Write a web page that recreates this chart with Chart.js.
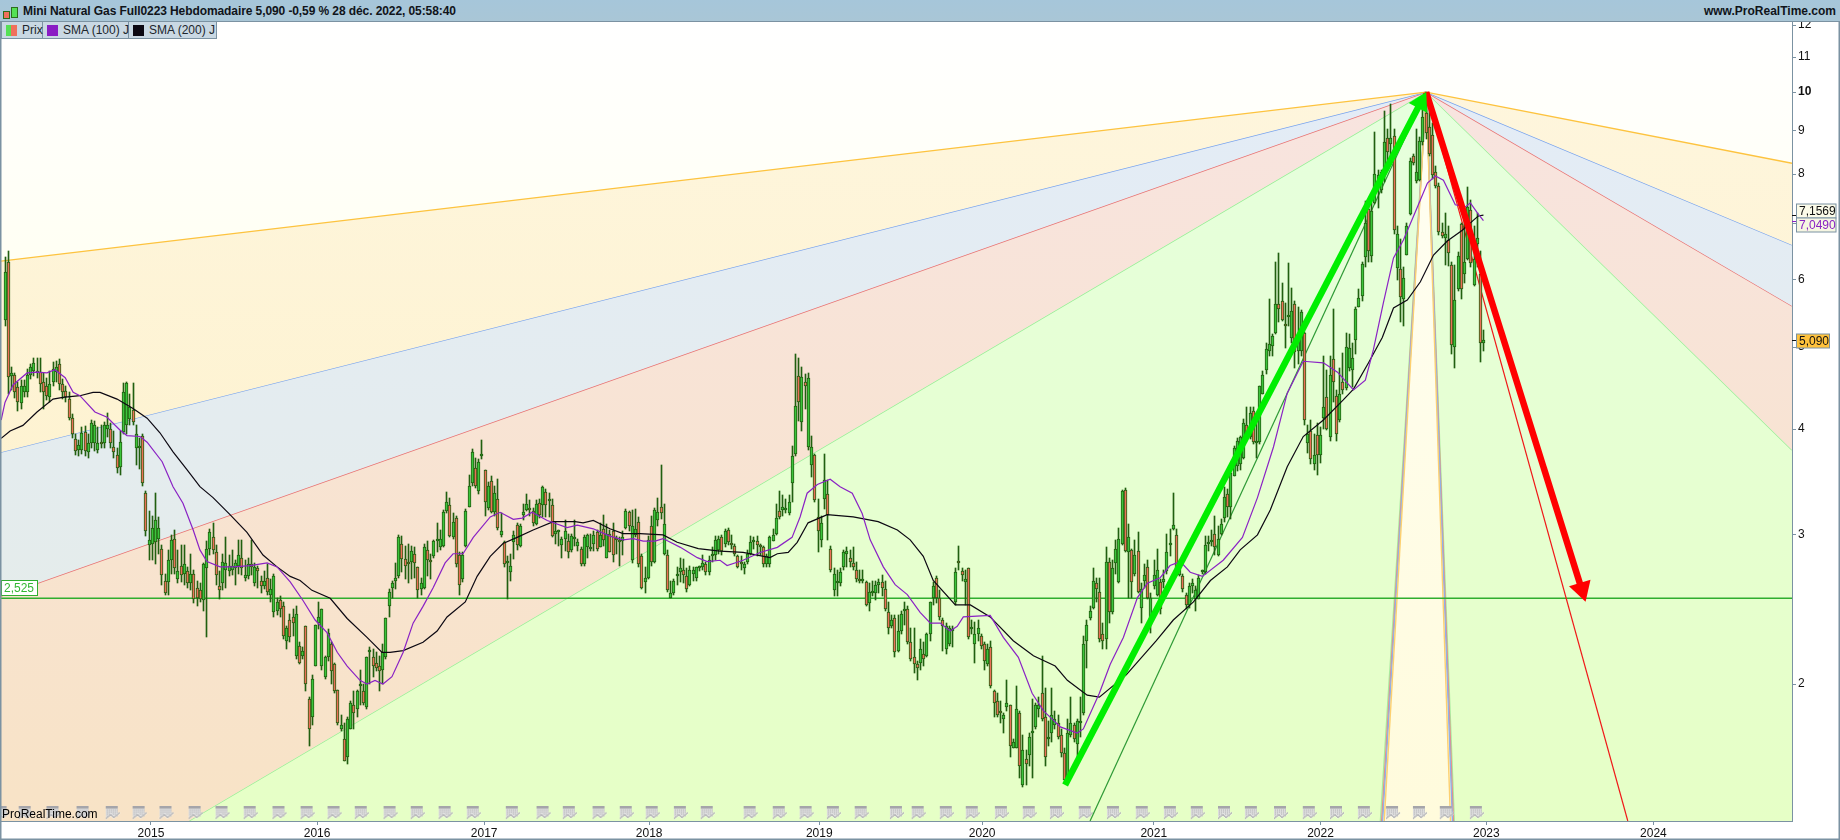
<!DOCTYPE html>
<html>
<head>
<meta charset="utf-8">
<title>Mini Natural Gas Full0223</title>
<script src="https://cdn.jsdelivr.net/npm/chart.js@4"></script>
<style>
    html, body { margin: 0; padding: 0; background: #fff; overflow: hidden; }
    body { width: 1840px; height: 840px; position: relative; font-family: "Liberation Sans", Arial, sans-serif; }
    canvas { position: absolute; left: 0; top: 0; }
    #header { position: absolute; left: 0; top: 0; width: 1840px; height: 21px; background: linear-gradient(#a6c6da, #a9c6d6); border-bottom: 1px solid #7b92a2; }
    #title { position: absolute; left: 23px; top: 4px; font-size: 12px; font-weight: bold; color: #10141a; white-space: nowrap; letter-spacing: -0.09px; }
    #site { position: absolute; right: 4px; top: 4px; font-size: 12px; font-weight: bold; color: #10141a; }
    .candle-icon { position: absolute; width: 5px; border: 1px solid #2c6e1c; }
    #legend { position: absolute; left: 1px; top: 22px; height: 17px; display: flex; background: #c9d8e3; border: 1px solid #7b92a2; border-top: 0; box-sizing: border-box; }
    .item { position: relative; height: 16px; border-right: 1px solid #7b92a2; font-size: 12px; color: #20262c; line-height: 16px; white-space: nowrap; box-sizing: border-box; }
    .swatch { position: absolute; left: 4px; top: 3px; width: 11px; height: 11px; }
</style>
</head>
<body>
<canvas id="grafico" width="1840" height="840"></canvas>
<div id="header">
    <div class="candle-icon" style="left:3px;top:11px;height:6px;background:#f0705c"></div>
    <div class="candle-icon" style="left:11px;top:7px;height:9px;background:#55e055"></div>
    <div id="title">Mini Natural Gas Full0223 Hebdomadaire 5,090 -0,59 % 28 déc. 2022, 05:58:40</div>
    <div id="site">www.ProRealTime.com</div>
</div>
<div id="legend">
    <div class="item" style="width:41px;padding-left:20px"><span class="swatch" style="background:linear-gradient(90deg,#55e055 50%,#f0705c 50%)"></span>Prix</div>
    <div class="item" style="width:86px;padding-left:20px"><span class="swatch" style="background:#8a1cc4"></span>SMA (100) J</div>
    <div class="item" style="width:87px;padding-left:20px;border-right:0"><span class="swatch" style="background:#0c0812"></span>SMA (200) J</div>
</div>
<script>
// Bougies hebdomadaires
const opens = [
    5.38,6.30,4.62,4.63,4.49,4.29,4.42,4.43,4.63,4.68,
    4.68,4.67,4.55,4.50,4.37,4.55,4.67,4.78,4.52,4.44,
    4.34,4.12,3.89,3.78,3.78,3.97,3.76,3.85,3.85,3.78,
    3.86,3.85,4.00,4.00,3.81,3.73,3.61,3.97,4.05,4.11,
    4.21,3.80,3.80,3.93,3.36,2.92,2.93,2.94,2.97,2.89,
    2.65,2.64,2.80,2.97,2.66,2.76,2.70,2.72,2.63,2.70,
    2.60,2.58,2.51,2.74,2.89,2.98,2.86,2.61,2.63,2.73,
    2.72,2.73,2.74,2.76,2.82,2.67,2.68,2.77,2.63,2.74,
    2.65,2.61,2.67,2.55,2.43,2.44,2.51,2.47,2.25,2.38,
    2.40,2.16,2.22,2.16,2.34,1.92,1.83,2.10,2.36,2.10,
    2.04,2.15,2.23,2.11,1.97,1.77,1.72,1.64,1.77,1.89,
    1.87,1.99,1.96,1.88,2.18,2.15,2.12,2.10,2.08,2.15,
    2.47,2.60,2.65,2.68,2.93,2.81,2.78,2.79,2.85,2.75,
    2.59,2.60,2.88,2.80,2.83,2.95,2.90,2.91,3.20,3.25,
    2.98,3.14,2.84,2.66,2.91,3.24,3.45,3.60,3.38,3.72,
    3.58,3.23,3.47,3.19,3.31,3.00,2.94,2.78,2.71,2.94,
    3.08,2.91,3.17,3.21,3.23,3.20,3.09,3.27,3.25,3.37,
    3.29,3.25,3.01,3.02,2.92,2.97,2.95,2.88,2.97,2.91,
    2.89,2.77,2.90,2.89,2.93,3.02,2.90,3.05,2.82,3.01,
    3.03,2.97,2.96,2.95,3.06,3.19,2.80,3.00,3.11,2.83,
    2.64,2.67,3.07,2.79,3.12,3.24,2.85,2.84,2.53,2.56,
    2.68,2.71,2.73,2.68,2.62,2.70,2.67,2.74,2.75,2.77,
    2.71,2.83,2.84,2.88,2.98,2.93,3.04,2.93,2.91,2.83,
    2.78,2.74,2.79,2.85,2.94,2.95,2.91,2.90,2.77,2.77,
    2.95,3.01,3.20,3.21,3.21,3.18,3.45,3.74,4.62,4.08,
    4.55,3.81,3.63,3.73,3.15,2.96,3.31,3.35,2.89,2.58,
    2.63,2.63,2.75,2.85,2.82,2.78,2.73,2.66,2.65,2.64,
    2.49,2.56,2.56,2.62,2.64,2.59,2.43,2.34,2.39,2.19,
    2.31,2.44,2.45,2.24,2.15,2.11,2.12,2.17,2.16,2.29,
    2.525,2.67,2.53,2.38,2.20,2.23,2.31,2.50,2.79,2.72,
    2.64,2.74,2.32,2.23,2.29,2.28,2.23,2.11,2.21,1.96,
    1.91,1.86,1.82,1.88,1.89,1.68,1.68,1.85,1.52,1.63,
    1.65,1.75,1.78,1.87,1.95,1.83,1.72,1.75,1.79,1.80,
    1.74,1.66,1.54,1.74,1.79,1.70,1.80,1.85,2.25,2.39,
    2.46,2.63,2.57,2.29,2.26,2.79,2.43,2.78,2.64,2.93,
    3.39,2.86,2.88,2.70,2.87,2.46,2.65,2.75,2.35,2.61,
    2.55,2.64,2.64,2.72,2.92,3.05,3.00,2.69,2.68,2.55,
    2.48,2.61,2.52,2.52,2.71,2.71,2.93,2.94,3.01,2.84,
    3.01,3.14,3.35,3.24,3.52,3.62,3.64,3.70,4.05,3.91,
    4.20,3.85,3.86,4.40,4.70,4.95,5.02,5.19,5.62,5.67,
    5.32,5.43,5.12,5.62,4.95,4.95,5.20,3.85,3.98,3.64,
    3.94,3.73,4.12,4.37,3.92,4.84,4.38,4.10,4.55,4.47,
    4.72,4.70,5.10,5.58,5.75,6.38,7.28,6.40,7.40,7.75,
    7.66,8.04,8.82,8.68,8.87,6.20,6.18,5.70,6.43,7.18,
    8.40,7.85,7.88,8.72,9.45,9.10,8.90,8.05,7.75,6.83,
    6.72,6.68,6.25,5.00,5.85,6.98,6.10,6.35,7.25,5.92,
    6.62,6.10,5.06
];
const closes = [
    6.13,4.61,4.66,4.43,4.30,4.50,4.50,4.63,4.74,4.79,
    4.66,4.52,4.42,4.38,4.52,4.71,4.74,4.52,4.42,4.37,
    4.12,3.95,3.77,3.83,3.96,3.77,3.85,4.07,4.05,3.85,
    3.84,4.05,4.05,3.85,3.76,3.60,3.86,4.42,4.53,4.25,
    4.08,3.95,3.82,3.45,3.03,2.96,3.06,3.12,3.06,2.69,
    2.56,2.80,2.96,2.74,2.72,2.69,2.77,2.63,2.70,2.52,
    2.53,2.52,2.77,2.89,3.02,2.88,2.69,2.58,2.79,2.78,
    2.76,2.76,2.78,2.84,2.74,2.69,2.77,2.75,2.75,2.72,
    2.61,2.65,2.57,2.59,2.68,2.50,2.45,2.28,2.33,2.27,
    2.36,2.42,2.12,2.19,2.00,1.77,2.03,2.35,2.40,2.45,
    2.15,2.30,2.07,1.96,1.80,1.79,1.62,1.82,1.90,1.85,
    1.96,2.00,1.90,2.15,2.19,2.10,2.09,2.07,2.18,2.39,
    2.57,2.63,2.67,2.98,2.81,2.76,2.77,2.87,2.78,2.58,
    2.63,2.90,2.80,2.79,2.95,2.96,2.97,3.19,3.28,2.99,
    3.11,2.77,2.62,2.84,3.20,3.43,3.76,3.43,3.66,3.74,
    3.28,3.43,3.19,3.36,3.06,3.03,2.77,2.79,2.76,3.00,
    2.92,3.07,3.19,3.26,3.21,3.10,3.26,3.17,3.42,3.25,
    3.31,2.99,3.03,3.03,2.97,3.03,2.86,2.99,2.98,2.94,
    2.77,2.98,3.00,2.90,3.00,2.89,3.00,2.96,3.01,2.86,
    2.84,2.96,2.94,2.98,3.20,3.07,3.07,3.05,2.77,2.60,
    2.67,2.96,2.79,3.21,3.19,3.18,3.09,2.58,2.56,2.65,
    2.70,2.74,2.69,2.59,2.73,2.73,2.75,2.75,2.78,2.71,
    2.80,2.85,2.96,2.97,2.87,3.03,2.94,2.92,2.85,2.75,
    2.77,2.77,2.85,2.94,2.95,2.92,2.90,2.77,2.83,2.98,
    3.00,3.14,3.15,3.24,3.23,3.28,3.72,4.26,4.30,4.61,
    4.50,4.60,3.81,3.30,3.03,3.10,3.48,3.17,2.73,2.70,
    2.65,2.71,2.86,2.87,2.79,2.75,2.66,2.65,2.66,2.48,
    2.57,2.57,2.62,2.64,2.60,2.45,2.33,2.38,2.18,2.31,
    2.42,2.45,2.24,2.14,2.11,2.09,2.20,2.14,2.29,2.50,
    2.61,2.525,2.40,2.34,2.34,2.33,2.32,2.71,2.78,2.69,
    2.66,2.27,2.33,2.29,2.33,2.22,2.13,2.20,1.99,1.90,
    1.84,1.85,1.84,1.90,1.69,1.71,1.87,1.60,1.67,1.61,
    1.73,1.76,1.89,1.89,1.82,1.64,1.73,1.84,1.82,1.73,
    1.66,1.54,1.75,1.80,1.72,1.81,1.81,2.23,2.35,2.44,
    2.65,2.59,2.26,2.25,2.79,2.43,2.74,2.89,2.97,3.38,
    2.87,2.98,2.64,2.84,2.57,2.59,2.69,2.525,2.53,2.69,
    2.73,2.45,2.66,2.86,2.93,3.08,2.70,2.78,2.59,2.48,
    2.61,2.63,2.58,2.67,2.72,2.92,2.94,2.95,2.90,2.97,
    3.09,3.33,3.24,3.55,3.80,3.87,3.92,4.07,3.93,4.18,
    3.86,3.87,4.50,4.63,4.97,5.04,5.15,5.62,5.55,5.38,
    5.30,5.45,5.52,4.93,5.12,5.50,4.10,3.95,3.69,3.73,
    3.73,3.94,4.25,4.00,4.63,4.55,3.95,4.40,4.45,5.00,
    4.99,4.85,5.55,5.72,6.27,7.00,6.50,7.24,8.00,7.98,
    8.04,8.72,8.50,8.83,6.88,6.80,5.73,6.03,6.95,8.30,
    8.25,8.04,8.75,9.35,8.95,8.45,7.98,7.75,6.83,6.76,
    6.80,6.45,5.03,5.68,6.40,5.85,6.30,7.32,6.28,6.36,
    6.72,5.06,5.09
];
const highs = [
    6.38,6.50,4.74,4.66,4.55,4.57,4.57,4.71,4.78,4.85,
    4.85,4.85,4.66,4.60,4.68,4.80,4.82,4.84,4.58,4.50,
    4.42,4.17,3.95,3.88,4.02,4.03,3.95,4.10,4.09,4.02,
    4.05,4.08,4.18,4.07,3.98,3.80,3.98,4.54,4.55,4.40,
    4.54,4.04,3.90,3.95,3.38,3.20,3.16,3.36,3.15,2.92,
    2.70,2.88,3.00,3.04,2.88,2.92,2.92,2.75,2.85,2.73,
    2.65,2.63,2.78,2.95,3.05,3.10,2.92,2.72,2.85,2.98,
    2.84,2.88,2.80,2.96,2.96,2.80,2.82,2.96,2.78,2.76,
    2.68,2.72,2.77,2.66,2.70,2.53,2.54,2.50,2.34,2.42,
    2.45,2.47,2.24,2.21,2.34,1.93,2.05,2.35,2.50,2.45,
    2.16,2.32,2.24,2.12,1.97,1.84,1.80,1.83,1.91,1.96,
    1.97,2.08,2.00,2.15,2.21,2.20,2.18,2.16,2.23,2.39,
    2.59,2.65,2.78,3.00,2.99,2.91,2.93,2.91,2.90,2.75,
    2.67,2.93,2.95,2.85,2.96,3.10,3.04,3.21,3.37,3.32,
    3.18,3.16,2.86,2.86,3.22,3.53,3.79,3.70,3.69,3.88,
    3.58,3.46,3.52,3.43,3.49,3.18,2.95,2.83,2.85,3.03,
    3.10,3.09,3.26,3.35,3.30,3.23,3.30,3.31,3.43,3.40,
    3.36,3.31,3.11,3.04,2.98,3.12,3.01,3.01,3.12,2.97,
    2.90,3.00,3.01,3.01,3.03,3.04,3.10,3.17,3.09,3.04,
    3.10,2.99,2.98,3.03,3.22,3.20,3.21,3.22,3.15,2.85,
    2.75,2.99,3.16,3.23,3.32,3.63,3.26,2.88,2.65,2.66,
    2.75,2.82,2.81,2.74,2.76,2.75,2.75,2.76,2.84,2.79,
    2.83,2.90,2.99,2.99,3.00,3.05,3.06,3.00,2.93,2.84,
    2.83,2.79,2.88,2.99,2.98,2.99,2.93,2.91,2.85,2.99,
    3.05,3.26,3.38,3.34,3.31,3.34,3.82,4.90,4.85,4.74,
    4.65,4.66,3.93,3.74,3.31,3.16,3.74,3.48,2.91,2.74,
    2.73,2.74,2.88,2.90,2.88,2.90,2.79,2.73,2.73,2.65,
    2.63,2.65,2.65,2.66,2.69,2.65,2.50,2.41,2.41,2.41,
    2.44,2.50,2.47,2.33,2.33,2.13,2.26,2.24,2.30,2.50,
    2.64,2.68,2.58,2.39,2.36,2.34,2.34,2.74,2.91,2.74,
    2.73,2.74,2.38,2.37,2.38,2.29,2.24,2.23,2.25,1.97,
    1.95,1.91,1.85,2.02,1.89,1.72,1.99,1.86,1.74,1.67,
    1.75,1.92,1.90,1.93,2.16,1.98,1.81,1.98,1.86,1.84,
    1.77,1.68,1.82,1.93,1.80,1.82,1.93,2.28,2.38,2.47,
    2.74,2.67,2.67,2.36,2.90,2.82,2.80,2.96,3.06,3.39,
    3.41,3.09,2.89,2.96,3.02,2.63,2.77,2.80,2.56,2.80,
    2.89,2.66,2.73,3.01,3.05,3.36,3.05,2.80,2.70,2.56,
    2.63,2.66,2.61,2.69,2.73,2.99,2.99,3.04,3.16,3.07,
    3.13,3.42,3.40,3.57,3.82,3.90,3.93,4.11,4.25,4.25,
    4.25,4.18,4.50,4.68,5.05,5.70,5.18,6.30,6.45,5.95,
    5.63,6.28,5.87,5.67,5.58,5.53,5.21,4.04,4.10,3.95,
    4.07,4.02,4.88,4.70,4.88,5.55,4.45,4.72,4.92,5.20,
    5.18,5.05,5.58,5.85,6.30,7.43,7.38,7.40,8.98,8.10,
    8.09,9.50,9.05,9.67,9.05,6.95,6.70,6.22,7.00,8.37,
    8.46,9.05,8.85,9.72,9.90,9.70,9.20,8.17,7.80,7.00,
    7.20,6.95,6.30,6.25,6.48,7.00,7.15,7.73,7.45,6.95,
    7.20,6.50,5.23
];
const lows = [
    5.30,4.40,4.45,4.35,4.20,4.22,4.37,4.37,4.58,4.62,
    4.60,4.42,4.22,4.33,4.30,4.50,4.55,4.45,4.34,4.30,
    4.10,3.90,3.73,3.72,3.74,3.72,3.70,3.80,3.77,3.75,
    3.80,3.80,3.92,3.80,3.70,3.55,3.53,3.95,3.95,4.05,
    4.05,3.63,3.59,3.43,2.99,2.80,2.80,2.77,2.85,2.62,
    2.55,2.55,2.70,2.70,2.63,2.64,2.62,2.60,2.58,2.49,
    2.47,2.50,2.44,2.27,2.84,2.85,2.62,2.52,2.58,2.60,
    2.68,2.69,2.62,2.70,2.69,2.65,2.66,2.69,2.61,2.60,
    2.56,2.59,2.55,2.50,2.40,2.41,2.40,2.26,2.20,2.24,
    2.28,2.14,2.11,2.14,1.96,1.69,1.79,2.10,2.32,2.08,
    2.03,2.13,2.00,1.95,1.79,1.76,1.62,1.61,1.77,1.77,
    1.83,1.89,1.89,1.87,2.00,2.04,2.07,1.96,2.00,2.14,
    2.40,2.53,2.59,2.67,2.71,2.66,2.63,2.66,2.67,2.53,
    2.55,2.59,2.68,2.66,2.82,2.86,2.88,2.90,3.18,2.98,
    2.97,2.75,2.55,2.64,2.90,3.24,3.43,3.41,3.35,3.69,
    3.16,3.21,3.18,3.16,3.04,2.98,2.75,2.52,2.65,2.81,
    2.88,2.90,3.12,3.20,3.16,3.07,3.08,3.14,3.15,3.15,
    3.15,2.98,2.93,2.91,2.82,2.87,2.82,2.86,2.91,2.87,
    2.76,2.76,2.82,2.87,2.87,2.87,2.90,2.91,2.82,2.86,
    2.79,2.85,2.76,2.84,3.05,3.03,2.78,2.98,2.75,2.59,
    2.56,2.66,2.76,2.78,3.07,3.13,2.84,2.57,2.525,2.55,
    2.62,2.64,2.63,2.57,2.61,2.65,2.65,2.72,2.73,2.69,
    2.69,2.79,2.80,2.85,2.84,2.90,2.92,2.89,2.83,2.74,
    2.73,2.70,2.77,2.84,2.89,2.83,2.84,2.75,2.75,2.75,
    2.95,3.00,3.13,3.16,3.18,3.17,3.28,3.72,4.09,3.98,
    4.23,3.78,3.51,3.28,2.86,2.90,3.22,2.96,2.71,2.54,
    2.54,2.61,2.73,2.75,2.75,2.73,2.64,2.63,2.63,2.47,
    2.44,2.54,2.51,2.56,2.54,2.44,2.29,2.33,2.15,2.18,
    2.29,2.35,2.23,2.13,2.06,2.02,2.08,2.10,2.15,2.25,
    2.48,2.49,2.38,2.19,2.17,2.22,2.21,2.48,2.73,2.65,
    2.48,2.26,2.29,2.12,2.25,2.20,2.08,2.10,1.98,1.83,
    1.83,1.80,1.75,1.86,1.64,1.68,1.68,1.55,1.51,1.52,
    1.60,1.55,1.77,1.83,1.81,1.60,1.69,1.71,1.77,1.72,
    1.64,1.54,1.54,1.73,1.71,1.64,1.73,1.84,2.09,2.38,
    2.45,2.50,2.24,2.20,2.20,2.36,2.42,2.70,2.63,2.92,
    2.86,2.525,2.53,2.68,2.56,2.36,2.60,2.52,2.30,2.59,
    2.54,2.42,2.60,2.70,2.83,3.04,2.69,2.68,2.57,2.45,
    2.46,2.56,2.44,2.52,2.70,2.70,2.87,2.91,2.84,2.83,
    3.00,3.11,3.15,3.13,3.52,3.57,3.58,3.69,3.90,3.89,
    3.84,3.70,3.84,4.40,4.65,4.88,4.88,5.18,5.35,5.37,
    4.98,5.30,5.05,4.72,4.78,4.88,4.04,3.75,3.64,3.58,
    3.53,3.65,4.00,3.99,3.87,4.30,3.87,4.08,4.40,4.45,
    4.69,4.48,4.90,5.58,5.66,6.22,6.30,6.30,7.38,7.30,
    7.60,7.83,8.09,8.38,6.80,6.00,5.35,5.30,6.42,7.15,
    8.20,7.80,7.85,8.66,8.80,8.40,7.90,7.70,6.78,6.72,
    6.25,6.23,4.90,4.72,5.82,5.70,5.95,6.33,6.22,5.90,
    6.22,4.80,4.95
];

// Moyennes mobiles : position en numéro de bougie, puis valeur
const sma100Bars = [
    -1.2,0,2.5,6.9,10,13.1,15.6,18.8,21.3,23.4,28.1,31.9,35.9,38.1,42.2,44.4,49.1,52.5,55.6,58.8,
    60.9,63.1,67.2,71.3,76.6,81.9,85,89.1,93.1,96.9,100.6,103.8,106.9,110.9,113.1,115.6,118.1,120.9,124.4,127.5,
    130.6,133.8,137.5,140,143.1,146.3,151.6,154.7,158.8,161.6,164.7,169.4,175.6,178.8,183.8,189,193.1,196.3,199.4,203.1,
    205.6,211,216.3,219.4,223.4,225.6,230.6,235.9,241.3,245.9,248.4,250.6,253.8,257.8,260.9,264.7,267.8,270.3,274.4,278.1,
    281.9,285.9,289.1,292.2,295.3,297.5,299.4,307.8,311.9,316.6,320.9,324.4,329.7,335,336.9,341.9,345.3,349.4,353.8,356.9,
    360.9,364,367.2,370.3,374.1,380.6,386.6,391.3,396.3,400.6,405.6,411.9,416.3,421.3,425,427.5,430.6,433.8,436.9,441.3,
    444.4,446.9,449.4,453.1,456.3,457.8,460,461.9
];
const sma100Values = [
    4.10,4.30,4.51,4.66,4.67,4.66,4.70,4.60,4.42,4.38,4.19,4.13,3.99,3.93,3.92,3.86,3.66,3.42,3.27,3.04,
    2.88,2.79,2.75,2.75,2.76,2.78,2.75,2.64,2.51,2.38,2.30,2.18,2.10,2.02,2.00,2.02,2.00,2.04,2.18,2.36,
    2.47,2.60,2.78,2.85,2.85,2.98,3.15,3.19,3.13,3.14,3.19,3.12,3.06,3.08,3.05,2.99,2.96,2.97,2.95,2.95,
    2.97,2.90,2.82,2.79,2.80,2.76,2.80,2.86,2.90,2.98,3.15,3.36,3.44,3.49,3.42,3.36,3.18,2.96,2.75,2.62,
    2.55,2.43,2.36,2.36,2.31,2.34,2.40,2.41,2.27,2.15,1.95,1.86,1.78,1.75,1.77,1.95,2.11,2.27,2.53,2.63,
    2.67,2.76,2.79,2.71,2.68,2.80,2.98,3.32,3.81,4.41,4.81,4.79,4.67,4.45,4.57,4.96,5.63,6.37,6.69,7.32,
    7.81,7.96,7.87,7.36,7.32,7.40,7.20,7.05
];
const sma200Bars = [
    -1.2,1.6,5.6,10,15,18.1,23.4,27.5,29.7,35,40,44.4,48.4,52.5,56.9,60.9,65,70.3,75.6,80.6,
    85,89.1,92.2,95.9,101.6,106.9,113.1,117.8,120.3,124.4,130.6,135,138.1,143.8,147.5,151.6,155.6,160,165,171.3,
    178.1,180.6,183.8,189,193.1,198.4,205.6,210,216.6,223.4,230.6,239,241.3,244.7,247.5,250.9,256.9,265,272.8,278.8,
    282.8,286.9,290,296.9,301.6,307.8,315,321.3,328.1,331.9,338.1,341.9,350.3,359.7,365,371.3,376.6,381.9,385.9,391.3,
    395.3,400.6,405.6,411.9,418.1,421.3,426,430.3,433.8,438.1,442.2,446.3,450.6,455.3,458.8,460.3,461.9
];
const sma200Values = [
    3.90,3.98,4.04,4.19,4.34,4.36,4.38,4.42,4.42,4.34,4.23,4.12,3.96,3.76,3.58,3.42,3.32,3.17,3.02,2.84,
    2.75,2.68,2.65,2.58,2.525,2.39,2.27,2.18,2.18,2.19,2.24,2.31,2.40,2.50,2.68,2.83,2.93,2.98,3.04,3.11,
    3.11,3.10,3.12,3.05,3.01,3.01,3.00,2.94,2.89,2.87,2.86,2.82,2.85,2.86,2.94,3.10,3.17,3.15,3.11,3.04,
    2.96,2.83,2.65,2.48,2.48,2.40,2.25,2.16,2.10,2.02,1.94,1.93,2.05,2.25,2.38,2.50,2.65,2.75,2.88,3.00,
    3.21,3.61,3.92,4.10,4.33,4.46,4.79,5.13,5.56,5.68,5.97,6.42,6.67,6.87,7.06,7.14,7.157
];

// Axes
const yearLabels = ['2015','2016','2017','2018','2019','2020','2021','2022','2023','2024'];
const yearBars = [45.6,97.5,149.7,201.25,254.4,305.3,358.9,411,462.8,515];
const yTicks = [2,3,4,5,6,7,8,9,10,11,12];
const xMin = -1.25;
const xMax = 558.3;
const yMin = 1.378;
const yMax = 12.1;

// Éventail : le sommet, puis la valeur de chaque droite aux deux bords
const apexBar = 444;
const apexPrice = 10;
const fanLeft = [6.316, 3.757, 2.54, 1.02];
const fanRight = [8.24, 6.60, 5.59, 3.78];
const fanColors = ['#fdc33f', '#76a2ee', '#e87474', '#98f098'];

// Éventail étroit : où chaque droite touche le bas du graphique
const steepLeftBars = [429.7, 430.1, 430.4, 430.9];
const steepRightBars = [452.8, 452.5, 452.2, 451.6];
const steepColors = ['#a8eca0', '#e88c88', '#8fb0ea', '#fdd070'];
const supportLevel = 2.525;
const greenTrendBar = 339;
const redTrendBar = 507;

// Flèches
const greenArrowBars = [331.2, 442.3];
const greenArrowPrices = [1.52, 9.72];
const redArrowBars = [444, 492.6];
const redArrowPrices = [10, 2.588];

// Petites icônes d'événements en bas du graphique
const eventBars = [
    -0.9,6.6,15.3,24.7,33.8,42.2,50.6,59.7,68.1,76.9,85.9,94.7,103.1,111.6,120.6,129.1,137.8,146.6,158.8,168.4,
    176.6,185.9,194.4,202.5,211.3,219.7,233.1,242.2,250.6,259.1,267.8,278.8,285.6,294.4,302.5,311.6,320.3,328.8,337.8,346.6,
    355.6,364.4,372.8,381.3,389.7,398.8,407.8,416.3,425,433.8,442.2,450.6,460
];
const eventPrice = 1.41;

// Étiquettes de prix à droite
const tagValues = [7.1569, 7.049, 5.09];
const tagLabels = ['7,1569', '7,0490', '5,090'];

const canvas = document.getElementById('grafico');
const ctx = canvas.getContext('2d');

function degrade(haut, bas) {
    const g = ctx.createLinearGradient(0, 22, 0, 821);
    g.addColorStop(0, haut);
    g.addColorStop(1, bas);
    return g;
}

function criarIcone() {
    const c = document.createElement('canvas');
    c.width = 17;
    c.height = 14;
    const x = c.getContext('2d');
    x.fillStyle = '#a5a5aa';
    x.fillRect(1, 0, 12, 3);
    x.fillStyle = '#dcdcdc';
    x.fillRect(1, 3, 12, 8);
    x.fillStyle = '#b4b4b8';
    for (let col = 2; col < 13; col += 2) {
        for (let lin = 4; lin < 11; lin += 2) {
            x.fillRect(col, lin, 1, 1);
        }
    }
    x.strokeStyle = '#f4f4f4';
    x.lineWidth = 2;
    x.beginPath();
    x.moveTo(1, 13);
    x.lineTo(6, 9);
    x.lineTo(9, 12);
    x.lineTo(15, 7);
    x.stroke();
    x.strokeStyle = '#8e8e92';
    x.lineWidth = 1;
    x.beginPath();
    x.moveTo(1, 13);
    x.lineTo(6, 9);
    x.lineTo(9, 12);
    x.lineTo(15, 7);
    x.stroke();
    return c;
}

function linha(label, bars, prices, color, width, order, extra) {
    return Object.assign({
        type: 'line',
        label: label,
        data: bars.map((b, i) => ({ x: b, y: prices[i] })),
        borderColor: color,
        borderWidth: width,
        pointRadius: 0,
        tension: 0,
        fill: false,
        order: order
    }, extra || {});
}

const apexBars = [xMin, apexBar, xMax];
const bandColors = [
    degrade('#fef6df', '#fdf0c6'),
    degrade('#e3ecf8', '#e5ece6'),
    degrade('#f8e4e2', '#f8e3c6'),
    degrade('#e6ffe0', '#e6ffc6')
];
const bandNames = ['Orange', 'Bleu', 'Rouge', 'Vert'];
const bands = fanLeft.map((v, i) => linha(bandNames[i], apexBars, [v, apexPrice, fanRight[i]], fanColors[i], 1.4, 50 + i, {
    fill: i < fanLeft.length - 1 ? '+1' : 'start',
    backgroundColor: bandColors[i]
}));

const steepLines = [];
steepLeftBars.forEach((b, i) => steepLines.push(linha('Gauche ' + i, [b, apexBar], [yMin, apexPrice], steepColors[i], 1.4, 40 - i)));
steepRightBars.forEach((b, i) => steepLines.push(linha('Droite ' + i, [apexBar, b], [apexPrice, yMin], steepColors[i], 1.4, 40 - i)));

const datasets = [
    ...bands,
    linha('Centre', [steepLeftBars[2], apexBar, steepRightBars[2]], [yMin, apexPrice, yMin], 'transparent', 0, 45, {
        fill: 'start',
        backgroundColor: degrade('#fffff6', '#fffbdc')
    }),
    ...steepLines,
    {
        type: 'scatter',
        label: 'Événements',
        data: eventBars.map(b => ({ x: b, y: eventPrice })),
        pointStyle: criarIcone(),
        pointRadius: 8,
        order: 30
    },
    linha('Support', [xMin, xMax], [supportLevel, supportLevel], '#2fae2f', 1.4, 25),
    linha('Trend vert', [greenTrendBar, apexBar], [yMin, apexPrice], '#2e9a36', 1.2, 24),
    linha('Trend rouge', [apexBar, redTrendBar], [apexPrice, yMin], '#f01818', 1.2, 24),
    {
        type: 'bar',
        label: 'Mèches',
        data: opens.map((_, i) => ({ x: i, y: [lows[i], highs[i]] })),
        backgroundColor: '#215f10',
        barThickness: 1,
        grouped: false,
        order: 20
    },
    {
        type: 'bar',
        label: 'Prix',
        data: opens.map((o, i) => ({ x: i, y: [o, closes[i]] })),
        backgroundColor: opens.map((o, i) => closes[i] >= o ? '#3cc43c' : '#ea7058'),
        borderColor: '#215f10',
        borderWidth: 1,
        borderSkipped: false,
        barThickness: 3,
        minBarLength: 2,
        grouped: false,
        order: 19
    },
    linha('SMA (200) J', sma200Bars, sma200Values, '#0c0812', 1.2, 18),
    linha('SMA (100) J', sma100Bars, sma100Values, '#8a22c4', 1.2, 17),
    linha('Flèche verte', greenArrowBars, greenArrowPrices, '#00ee00', 6.5, 10, {
        pointRadius: [0, 12],
        pointRotation: [0, 27.6],
        pointBackgroundColor: '#00ee00',
        pointBorderWidth: 0,
        pointStyle: 'triangle'
    }),
    linha('Flèche rouge', redArrowBars, redArrowPrices, '#ff0000', 6.5, 10, {
        pointRadius: [0, 13],
        pointRotation: [0, 162.7],
        pointBackgroundColor: '#ff0000',
        pointBorderWidth: 0,
        pointStyle: 'triangle'
    })
];

// Aligne les bougies sur les pixels pour garder des traits nets
const alignerBougies = {
    id: 'alignerBougies',
    afterDatasetsUpdate(chart) {
        chart.getSortedVisibleDatasetMetas().forEach(meta => {
            if (meta.type !== 'bar') return;
            meta.data.forEach(el => {
                el.x = Math.round(el.x - 0.5) + 0.5;
                el.y = Math.round(el.y);
                el.base = Math.round(el.base);
            });
        });
    }
};

const fond = {
    id: 'fond',
    beforeDatasetsDraw(chart) {
        const { left, top, width, height } = chart.chartArea;
        const c = chart.ctx;
        c.save();
        c.fillStyle = degrade('#ffffff', '#ffffd8');
        c.fillRect(left, top, width, height);
        c.restore();
    }
};

// Étiquettes, filigrane et cadre
const etiquettes = {
    id: 'etiquettes',
    afterDraw(chart) {
        const c = chart.ctx;
        const y = chart.scales.y;
        const right = chart.chartArea.right;
        c.save();
        c.font = '12px "Liberation Sans", Arial, sans-serif';
        c.textBaseline = 'middle';
        c.textAlign = 'left';

        c.fillStyle = '#000';
        c.fillText('ProRealTime.com', 2, 815);

        const sy = Math.round(y.getPixelForValue(supportLevel));
        c.fillStyle = '#fff';
        c.fillRect(1, sy - 17, 37, 15);
        c.strokeStyle = '#2fae2f';
        c.strokeRect(1.5, sy - 17.5, 36, 15);
        c.fillStyle = '#35b835';
        c.fillText('2,525', 4, sy - 9.5);

        const styles = [
            { color: '#111', bg: '#fbfbe9', box: 39.5, dy: -4, tick: '#111' },
            { color: '#8a22c4', bg: '#f6f6e2', box: 39.5, dy: 4, tick: '#8a22c4' },
            { color: '#111', bg: '#ffc23c', box: 33, dy: 1, tick: '#111' }
        ];
        tagValues.forEach((v, i) => {
            const s = styles[i];
            const py = Math.round(y.getPixelForValue(v));
            const cy = py + s.dy;
            c.strokeStyle = s.tick;
            c.beginPath();
            c.moveTo(right, py + 0.5);
            c.lineTo(right + 5, py + 0.5);
            c.stroke();
            c.fillStyle = s.bg;
            c.fillRect(1796.5, cy - 7, s.box, 14);
            c.strokeStyle = '#7b92a2';
            c.strokeRect(1796.5, cy - 7, s.box, 14);
            c.fillStyle = s.color;
            c.fillText(tagLabels[i], 1799, cy + 0.5);
        });

        c.strokeStyle = '#7b92a2';
        c.lineWidth = 1.5;
        c.beginPath();
        c.moveTo(0.75, 22);
        c.lineTo(0.75, 839.25);
        c.lineTo(1839.25, 839.25);
        c.lineTo(1839.25, 22);
        c.stroke();
        c.restore();
    }
};

new Chart(ctx, {
    type: 'bar',
    data: { datasets: datasets },
    plugins: [fond, alignerBougies, etiquettes],
    options: {
        responsive: false,
        animation: false,
        layout: { autoPadding: false, padding: { left: 1, top: 22, right: 0, bottom: 0 } },
        plugins: {
            legend: { display: false },
            title: { display: false },
            tooltip: { enabled: false }
        },
        scales: {
            x: {
                type: 'linear',
                min: xMin,
                max: xMax,
                offset: false,
                afterBuildTicks: scale => { scale.ticks = yearBars.map(v => ({ value: v })); },
                afterFit: scale => {
                    scale.height = 19;
                    scale.paddingLeft = 0;
                    scale.paddingRight = 0;
                },
                border: { color: '#7b92a2' },
                grid: { display: true, drawOnChartArea: false, drawTicks: true, tickLength: 4, color: '#7b92a2', offset: false },
                ticks: {
                    autoSkip: false,
                    maxRotation: 0,
                    padding: 1,
                    color: '#111',
                    font: { family: '"Liberation Sans", Arial, sans-serif', size: 12 },
                    callback: value => yearLabels[yearBars.indexOf(value)]
                }
            },
            y: {
                type: 'logarithmic',
                position: 'right',
                min: yMin,
                max: yMax,
                afterBuildTicks: scale => { scale.ticks = yTicks.map(v => ({ value: v })); },
                afterFit: scale => {
                    scale.width = 48;
                    scale.paddingTop = 0;
                    scale.paddingBottom = 0;
                },
                border: { color: '#7b92a2' },
                grid: { drawOnChartArea: false, drawTicks: true, tickLength: 4, color: '#7b92a2' },
                ticks: {
                    autoSkip: false,
                    padding: 2,
                    color: '#111',
                    font: ctx => ({
                        family: '"Liberation Sans", Arial, sans-serif',
                        size: 12,
                        weight: ctx.tick && ctx.tick.value === 10 ? 'bold' : 'normal'
                    }),
                    callback: value => String(value)
                }
            }
        }
    }
});
</script>
</body>
</html>
